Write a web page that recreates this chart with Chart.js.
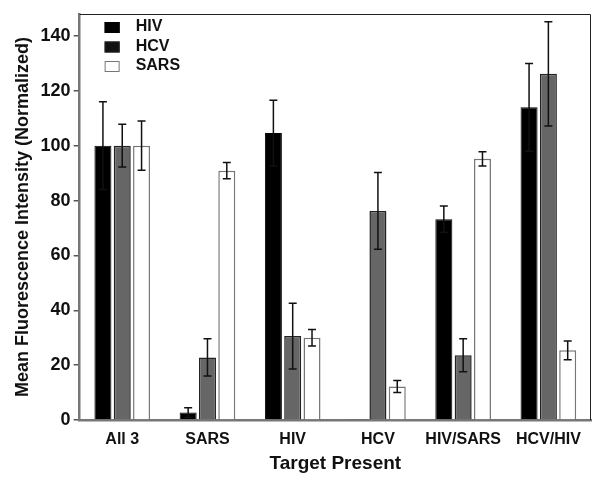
<!DOCTYPE html>
<html>
<head>
<meta charset="utf-8">
<script src="https://cdn.jsdelivr.net/npm/chart.js@4.4.0/dist/chart.umd.min.js"></script>
<style>
  html, body { margin: 0; padding: 0; background: #fff; }
  #wrap { width: 600px; height: 483px; }
</style>
</head>
<body>
<div id="wrap"><canvas id="myChart" width="600" height="483"></canvas></div>
<script>
const targets = ['All 3', 'SARS', 'HIV', 'HCV', 'HIV/SARS', 'HCV/HIV'];

const hivValues = [100, 2.7, 104.6, 0.4, 73.2, 114];
const hivErrors = [16, 1.8, 12, 0, 4.8, 16];

const hcvValues = [100, 22.8, 30.6, 76.2, 23.6, 126.2];
const hcvErrors = [7.8, 6.8, 12, 14, 6, 19];

const sarsValues = [100, 90.9, 30, 12.2, 95.2, 25.4];
const sarsErrors = [9, 3, 3, 2.2, 2.6, 3.4];

const yTicks = [0, 20, 40, 60, 80, 100, 120, 140];

const font = "'Liberation Sans', Arial, sans-serif";

// error bars drawn through the y scale
const errorBars = {
    id: 'errorBars',
    afterDatasetsDraw(chart) {
        const ctx = chart.ctx;
        const yScale = chart.scales.y;
        ctx.save();
        ctx.strokeStyle = '#111';
        ctx.lineWidth = 1.5;
        chart.data.datasets.forEach((ds, i) => {
            const meta = chart.getDatasetMeta(i);
            meta.data.forEach((bar, j) => {
                const err = ds.errors[j];
                if (!err) return;
                const v = ds.data[j];
                const top = yScale.getPixelForValue(v + err);
                const bot = yScale.getPixelForValue(Math.max(0, v - err));
                ctx.beginPath();
                ctx.moveTo(bar.x, top);
                ctx.lineTo(bar.x, bot);
                ctx.moveTo(bar.x - 4, top);
                ctx.lineTo(bar.x + 4, top);
                ctx.moveTo(bar.x - 4, bot);
                ctx.lineTo(bar.x + 4, bot);
                ctx.stroke();
            });
        });
        ctx.restore();
    }
};

// box on top/right and legend inside the plot
const frameAndLegend = {
    id: 'frameAndLegend',
    afterDraw(chart) {
        const ctx = chart.ctx;
        const a = chart.chartArea;
        ctx.save();
        ctx.strokeStyle = '#222';
        ctx.lineWidth = 1;
        ctx.beginPath();
        ctx.moveTo(a.left, a.top + 0.5);
        ctx.lineTo(a.right - 0.5, a.top + 0.5);
        ctx.lineTo(a.right - 0.5, a.bottom);
        ctx.stroke();

        ctx.font = 'bold 16px ' + font;
        ctx.textBaseline = 'middle';
        chart.data.datasets.forEach((ds, i) => {
            const y = a.top + 13 + i * 19.5;
            const x = a.left + 25;
            ctx.fillStyle = ds.legendColor;
            ctx.fillRect(x, y - 5, 15, 11);
            ctx.strokeStyle = ds.borderColor;
            ctx.lineWidth = 1;
            ctx.strokeRect(x + 0.5, y - 4.5, 14, 10);
            ctx.fillStyle = '#111';
            ctx.fillText(ds.label, x + 31, y);
        });
        ctx.restore();
    }
};

const ctx = document.getElementById('myChart').getContext('2d');
const myChart = new Chart(ctx, {
    type: 'bar',
    data: {
        labels: targets,
        datasets: [
            { label: 'HIV', data: hivValues, errors: hivErrors,
              backgroundColor: '#000', borderColor: '#000', legendColor: '#000', borderWidth: 1 },
            { label: 'HCV', data: hcvValues, errors: hcvErrors,
              backgroundColor: '#666', borderColor: '#222', legendColor: '#111', borderWidth: 1.5 },
            { label: 'SARS', data: sarsValues, errors: sarsErrors,
              backgroundColor: '#fff', borderColor: '#777', legendColor: '#fff', borderWidth: 1.5 }
        ]
    },
    options: {
        responsive: false,
        animation: false,
        layout: { padding: { top: 14, right: 9, left: 8, bottom: 6 } },
        datasets: {
            bar: { barPercentage: 0.88, categoryPercentage: 0.68 }
        },
        plugins: {
            legend: { display: false },
            tooltip: { enabled: false }
        },
        scales: {
            x: {
                grid: { display: false },
                border: { display: true, color: '#777', width: 2.5 },
                ticks: { color: '#111', font: { family: font, size: 16, weight: 'bold', lineHeight: 1 }, padding: 4 },
                title: { display: true, text: 'Target Present', color: '#111',
                         font: { family: font, size: 19, weight: 'bold', lineHeight: 1 }, padding: { top: 2 } }
            },
            y: {
                min: 0,
                max: 148,
                afterBuildTicks: axis => { axis.ticks = yTicks.map(v => ({ value: v })); },
                grid: { drawOnChartArea: false, drawTicks: true, tickLength: 6, color: '#555', lineWidth: 1.5 },
                border: { display: true, color: '#777', width: 2.5 },
                ticks: { color: '#111', font: { family: font, size: 18, weight: 'bold' }, padding: 3 },
                title: { display: true, text: 'Mean Fluorescence Intensity (Normalized)', color: '#111',
                         font: { family: font, size: 18, weight: 'bold' }, padding: { bottom: 4 } }
            }
        }
    },
    plugins: [errorBars, frameAndLegend]
});
</script>
</body>
</html>
